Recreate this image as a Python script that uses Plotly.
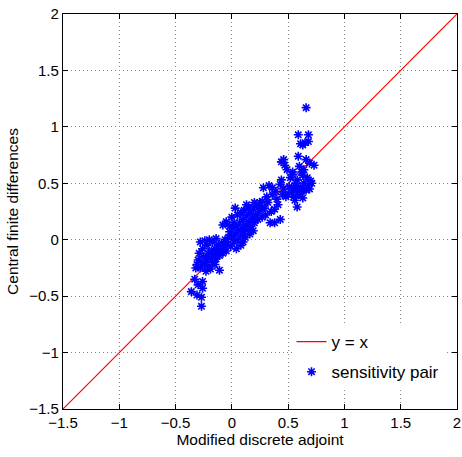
import plotly.graph_objects as go

adj_x = [
    -0.33, -0.26, -0.30, -0.26, -0.36, -0.31, -0.27, -0.27, -0.11,
    -0.31, -0.30, -0.28, -0.27, -0.25, -0.24, -0.22, -0.21, -0.20, -0.19, -0.18, -0.17, -0.16, -0.15, -0.14,
    -0.13, -0.12, -0.11, -0.10, -0.09, -0.08, -0.07, -0.06, -0.05, -0.04,
    -0.28, -0.24, -0.20, -0.17, -0.14, -0.22, -0.26, -0.29, -0.32, -0.23, -0.19, -0.15,
    -0.03, -0.02, -0.01, 0.00, 0.01, 0.02, 0.03, 0.04, 0.05, 0.06, 0.07, 0.08, 0.09, 0.10, 0.10, 0.11, 0.12,
    0.13, 0.14, 0.15, 0.16, 0.17, 0.18, 0.19, 0.20, 0.21, 0.22, 0.23, 0.24, 0.25,
    0.03, 0.13, -0.08, -0.05, 0.00, 0.05, 0.02, -0.02, 0.08, 0.11, 0.15, 0.20, 0.04, 0.08, 0.12, 0.16, 0.19,
    0.27, 0.28, 0.29, 0.31, 0.32, 0.33, 0.34, 0.35, 0.36, 0.36, 0.38, 0.38, 0.39, 0.40, 0.41, 0.43, 0.43,
    0.44, 0.45, 0.46, 0.48, 0.30, 0.26, 0.27,
    0.50, 0.51, 0.52, 0.53, 0.54, 0.55, 0.56, 0.56, 0.57, 0.58, 0.58, 0.59, 0.60, 0.60, 0.61, 0.62, 0.63,
    0.64, 0.65, 0.66, 0.66, 0.67, 0.68, 0.69, 0.70, 0.73, 0.59, 0.61, 0.63, 0.65, 0.68, 0.59, 0.68, 0.66,
    0.44, 0.46, 0.47, 0.49, 0.54, 0.62, 0.64, 0.57, 0.55, 0.63, 0.69, 0.71,
]
fd_y = [
    -0.35, -0.37, -0.40, -0.43, -0.46, -0.49, -0.51, -0.59, -0.27,
    -0.22, -0.18, -0.25, -0.20, -0.15, -0.22, -0.18, -0.12, -0.24, -0.16, -0.10, -0.20, -0.13, -0.08, -0.17,
    -0.11, -0.05, -0.14, -0.09, -0.03, -0.12, -0.06, 0.00, -0.10, -0.04,
    -0.02, -0.01, 0.00, -0.02, 0.01, -0.05, -0.08, -0.12, -0.25, -0.28, -0.26, -0.22,
    0.02, 0.07, -0.06, 0.03, 0.10, -0.02, 0.05, 0.12, 0.00, 0.08, 0.15, 0.03, 0.10, 0.18, -0.02, 0.07, 0.13,
    0.21, 0.09, 0.16, 0.24, 0.12, 0.19, 0.27, 0.15, 0.22, 0.30, 0.18, 0.25, 0.33,
    0.28, 0.31, 0.13, 0.16, 0.20, 0.22, 0.15, 0.12, 0.24, 0.26, 0.29, 0.33, -0.08, -0.05, 0.02, 0.05, 0.08,
    0.34, 0.46, 0.28, 0.38, 0.33, 0.48, 0.15, 0.25, 0.46, 0.40, 0.15, 0.27, 0.43, 0.36, 0.31, 0.18, 0.49,
    0.53, 0.40, 0.45, 0.38, 0.22, 0.28, 0.20,
    0.40, 0.47, 0.55, 0.42, 0.58, 0.38, 0.35, 0.48, 0.44, 0.53, 0.29, 0.40, 0.40, 0.65, 0.47, 0.43, 0.37,
    0.50, 0.45, 0.44, 0.71, 0.55, 0.48, 0.68, 0.52, 0.66, 0.74, 0.85, 0.84, 0.86, 0.87, 0.93, 0.93, 1.17,
    0.69, 0.71, 0.66, 0.62, 0.60, 0.60, 0.62, 0.50, 0.45, 0.57, 0.45, 0.50,
]
ref_line = [-1.5, 2.0]
tick_vals = [-1.5, -1, -0.5, 0, 0.5, 1, 1.5, 2]
tick_text = ["\u22121.5", "\u22121", "\u22120.5", "0", "0.5", "1", "1.5", "2"]

FONT = "Liberation Sans, Arial, Helvetica, sans-serif"

fig = go.Figure()
fig.add_trace(go.Scatter(
    x=ref_line, y=ref_line, mode="lines", name="y = x", legendgroup="a",
    line=dict(color="#ff0000", width=1.2),
))
fig.add_trace(go.Scatter(
    x=adj_x, y=fd_y, mode="markers", name="sensitivity pair", legendgroup="b",
    marker=dict(symbol="asterisk-open", size=7.5, color="#0000ff",
                line=dict(color="#0000ff", width=1.6)),
))

axis_common = dict(
    range=[-1.5, 2], tickvals=tick_vals, ticktext=tick_text,
    showgrid=True, gridcolor="#8a8a8a", griddash="1px,3px", gridwidth=1,
    zeroline=False, showline=True, linecolor="black", linewidth=1.3,
    mirror="allticks", ticks="inside", ticklen=5, tickcolor="black",
    tickfont=dict(family=FONT, size=15, color="black"),
    automargin=False,
)

fig.update_layout(
    width=462, height=457,
    margin=dict(l=63, r=5, t=14, b=48),
    paper_bgcolor="white", plot_bgcolor="white",
    font=dict(family=FONT, size=15, color="black"),
    xaxis=dict(**axis_common,
               title=dict(text="Modified discrete adjoint", standoff=2,
                          font=dict(family=FONT, size=15.5))),
    yaxis=dict(**axis_common,
               title=dict(text="Central finite differences", standoff=6,
                          font=dict(family=FONT, size=15.5))),
    legend=dict(x=0.58, y=0.215, xanchor="left", yanchor="top",
                bgcolor="white", borderwidth=0,
                font=dict(family=FONT, size=17, color="black"),
                tracegroupgap=5, itemwidth=30),
    showlegend=True,
)

fig.write_html("out.html", config={"displayModeBar": False},
               post_script="document.body.style.margin='0';document.body.style.overflow='hidden';")
